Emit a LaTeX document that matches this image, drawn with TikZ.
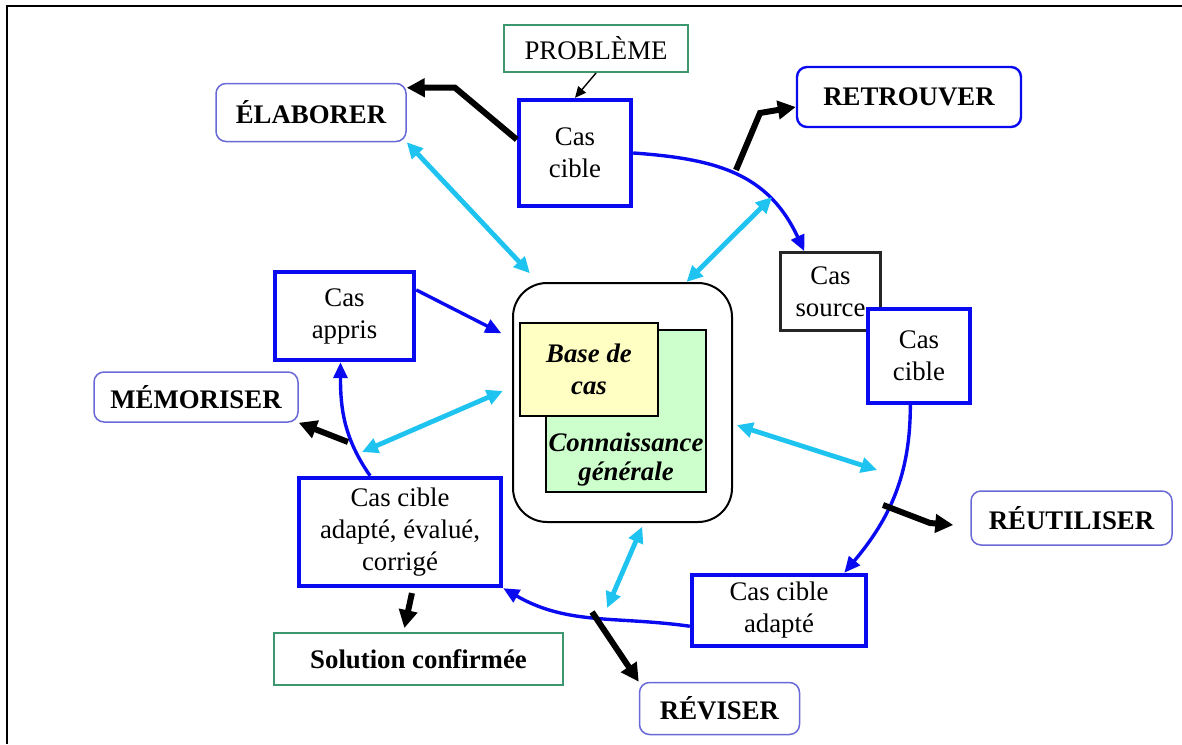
\documentclass[tikz,border=0pt]{standalone}
\usepackage{fontspec}
\setmainfont{Liberation Serif}
\usetikzlibrary{arrows.meta}

\definecolor{bleu}{RGB}{10,10,240}
\definecolor{lavande}{RGB}{105,105,215}
\definecolor{vert}{RGB}{60,150,110}
\definecolor{cyanf}{RGB}{30,195,240}
\definecolor{jaune}{RGB}{255,255,195}
\definecolor{vertclair}{RGB}{205,255,205}

\newcommand{\txt}{\fontsize{13.4}{16}\selectfont}

\begin{document}
\begin{tikzpicture}[x=0.5pt, y=-0.5pt,
  every node/.style={font=\txt, align=center, inner sep=0pt},
  casbox/.style={draw=bleu, line width=2.2pt, fill=white},
  phase/.style={draw=lavande, line width=0.75pt, rounded corners=5pt, fill=white, font=\txt\bfseries},
  verte/.style={draw=vert, line width=1pt, fill=white},
  fleche/.style={draw=bleu, line width=1.7pt, -{Triangle[length=8pt,width=7pt]}},
  sortie/.style={line width=3pt, -{Triangle[length=9pt,width=9pt]}},
  lien/.style={draw=cyanf, line width=2.4pt, {Triangle[length=8pt,width=7.5pt]}-{Triangle[length=8pt,width=7.5pt]}}]
\useasboundingbox (0,0) rectangle (1182,744);
\draw[line width=1.4pt] (1182,6) -- (7,6) -- (7,744);

% les cas
\node[verte, minimum width=92pt, minimum height=23.5pt] (prob) at (596,48.5) {PROBLÈME};
\node[casbox, minimum width=56pt, minimum height=53pt] (cible1) at (575,153) {Cas\\cible};
\node[phase, minimum width=95pt, minimum height=29pt] (elab) at (311,112.5) {ÉLABORER};
\node[phase, draw=bleu, line width=1.2pt, minimum width=112pt, minimum height=30pt] (retr) at (909,97) {RETROUVER};
\node[draw=black!85, line width=1.3pt, fill=white, minimum width=50pt, minimum height=39pt] (source) at (830.5,291.5) {Cas\\source};
\node[casbox, minimum width=51pt, minimum height=47pt] (cible2) at (919,356) {Cas\\cible};

% la base
\node[draw, line width=1pt, rounded corners=17pt, minimum width=109.5pt, minimum height=119.5pt] (base) at (622.5,402.5) {};
\node[draw, line width=1pt, fill=vertclair, minimum width=80pt, minimum height=81pt,
  label={[anchor=south, inner sep=3pt, font=\fontsize{13.4}{14.5}\selectfont\bfseries\itshape]south:{Connaissance\\générale}}] (conn) at (626,411) {};
\node[draw, line width=1pt, fill=jaune, minimum width=69pt, minimum height=46.5pt, font=\txt\bfseries\itshape] (cas) at (589,369.5) {Base de\\cas};

\node[casbox, minimum width=69.5pt, minimum height=44pt] (appris) at (344.5,316) {Cas\\appris};
\node[phase, minimum width=102pt, minimum height=25pt] (memo) at (196,397) {MÉMORISER};
\node[casbox, minimum width=101pt, minimum height=54pt] (evalue) at (400,532) {Cas cible\\adapté, évalué,\\corrigé};
\node[verte, minimum width=144.5pt, minimum height=26pt, font=\txt\bfseries] (sol) at (418.5,659) {Solution confirmée};
\node[casbox, minimum width=87pt, minimum height=35.5pt] (adapte) at (779,610.5) {Cas cible\\adapté};
\node[phase, minimum width=80pt, minimum height=26pt] (revi) at (719.5,708.5) {RÉVISER};
\node[phase, minimum width=100.5pt, minimum height=27pt] (reut) at (1071.5,518) {RÉUTILISER};

\coordinate (r1) at (736,170);
\coordinate (r3) at (883,505);
\coordinate (r4) at (592,612);
\coordinate (r5) at (348,442);
\coordinate (t1) at (772,197);
\coordinate (t3) at (877,470);
\coordinate (t4) at (607,608);
\coordinate (t5) at (362,452);

% le cycle
\draw[fleche] (cible1.east) to[out=-4, in=115, looseness=1.1] (source.123);
\draw[fleche] (cible2.260) to[out=-90, in=50] (adapte.30);
\draw[fleche] (adapte.190) to[out=172, in=-30] (evalue.south east);
\draw[fleche] (evalue.118) to[out=125, in=-90] (appris.265);
\draw[fleche, shorten >=6pt] (appris.20) -- (base.150);

% les phases
\draw[-{Triangle[length=5.5pt,width=5pt]}, line width=0.7pt] (prob.south) -- (cible1.north);
\draw[sortie] (cible1.167) -- ++(-62,-52) -- ([yshift=-2.5pt]elab.north east);
\draw[sortie] (r1) -- ++(24,-57) -- ([yshift=-5pt]retr.west);
\draw[sortie] (r3) -- ++(47,18) -- ([xshift=-8.5pt,yshift=-3.5pt]reut.west);
\draw[sortie] (r4) -- (revi.north west);
\draw[sortie] (r5) -- (memo.south east);
\draw[sortie, shorten <=2.5pt, shorten >=2pt] ([xshift=6.5pt]evalue.south) -- ([xshift=-7.5pt]sol.north);

% liens avec la base
\draw[lien, shorten >=6pt] (elab.south east) -- (base.125);
\draw[lien] (base.62) -- (t1);
\draw[lien, shorten <=2pt] (base.-11) -- (t3);
\draw[lien, shorten <=2pt] (base.-80) -- (t4);
\draw[lien, shorten <=5pt] (base.172) -- (t5);
\end{tikzpicture}
\end{document}
